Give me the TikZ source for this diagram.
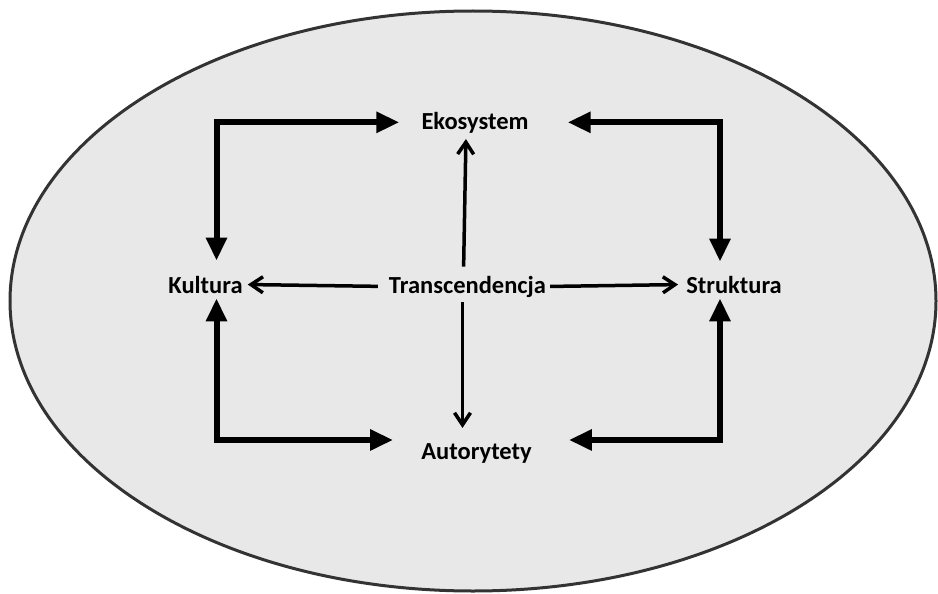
\documentclass[tikz,border=0pt]{standalone}
\usepackage{fontspec}
\setmainfont{Carlito}
\usetikzlibrary{arrows.meta}

\begin{document}
\begin{tikzpicture}[x=1pt,y=-1pt,
  word/.style={font=\fontsize{24.5}{28}\selectfont\bfseries,inner sep=2pt,anchor=base},
  bigarrow/.style={line width=6pt,{Triangle[length=23pt,width=20pt]}-{Triangle[length=23pt,width=20pt]}},
  smallarrow/.style={line width=3.5pt,-{Straight Barb[length=12pt,width=16pt]}}]
\useasboundingbox (0,0) rectangle (938,594);
\draw[fill=black!9,draw=black!80,line width=3pt] (473,301) ellipse (463 and 290);

\node[word] (eko) at (475,129) {Ekosystem};
\node[word] (kult) at (205.5,293) {Kultura};
\node[word] (trans) at (467.5,293) {Transcendencja};
\node[word] (struk) at (734,293) {Struktura};
\node[word] (auto) at (476.5,459) {Autorytety};

\draw[bigarrow,shorten <=20pt,shorten >=13pt] (eko.west) -| ([xshift=11pt]kult.north);
\draw[bigarrow,shorten <=37pt,shorten >=12pt] (eko.east) -| ([xshift=-14pt]struk.north);
\draw[bigarrow,shorten <=3pt,shorten >=26pt] ([xshift=11pt]kult.south) |- ([yshift=13pt]auto.west);
\draw[bigarrow,shorten <=3pt,shorten >=35pt] ([xshift=-14pt]struk.south) |- ([yshift=13pt]auto.east);

\draw[smallarrow,shorten <=9pt,shorten >=3pt] (trans.west) -- (kult.east);
\draw[smallarrow,shorten <=2pt,shorten >=6pt] (trans.east) -- (struk.west);
\draw[smallarrow,shorten <=7pt,shorten >=4pt] ([xshift=-4pt]trans.north) -- ([xshift=-9pt]eko.south);
\draw[smallarrow,shorten <=3pt,shorten >=13pt] ([xshift=-5pt]trans.south) -- ([xshift=-14pt]auto.north);
\end{tikzpicture}
\end{document}
